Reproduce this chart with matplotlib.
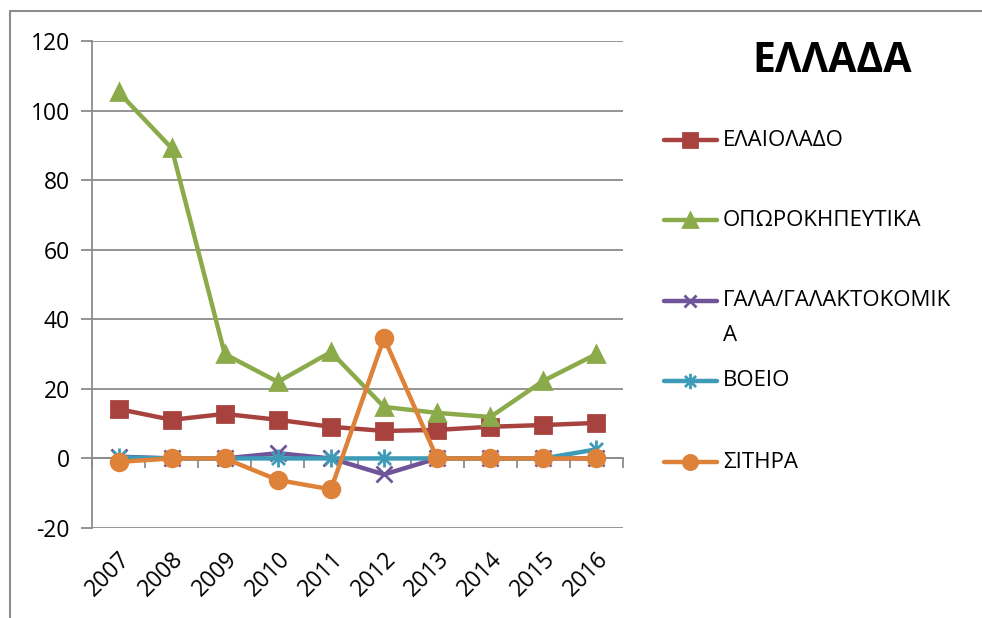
import matplotlib.pyplot as plt
import numpy as np
from matplotlib.lines import Line2D
from matplotlib.path import Path

plt.rcParams['font.family'] = ['Open Sans', 'DejaVu Sans']
plt.rcParams['axes.unicode_minus'] = False

years = ['2007', '2008', '2009', '2010', '2011', '2012', '2013', '2014', '2015', '2016']
elaiolado = [14.2, 11.1, 12.8, 11.1, 9.1, 7.9, 8.2, 9.1, 9.6, 10.2]
oporokipeftika = [105.3, 89.2, 30.0, 22.0, 30.6, 14.8, 13.1, 11.9, 22.3, 30.0]
gala = [0.5, 0.0, 0.0, 1.5, 0.0, -4.6, 0.0, 0.0, 0.0, 0.0]
voeio = [0.3, 0.0, 0.0, 0.0, 0.0, 0.0, 0.0, 0.0, 0.0, 2.6]
sitira = [-1.0, 0.0, 0.0, -6.2, -8.9, 34.6, 0.0, 0.0, 0.0, 0.0]

names = ['ΕΛΑΙΟΛΑΔΟ', 'ΟΠΩΡΟΚΗΠΕΥΤΙΚΑ', 'ΓΑΛΑ/ΓΑΛΑΚΤΟΚΟΜΙΚΑ', 'ΒΟΕΙΟ', 'ΣΙΤΗΡΑ']
colors = ['#A7423F', '#8BAA4A', '#6F5499', '#3D9BB7', '#DE8239']

# excel style star: vertical bar + x
star = Path([(0, -1), (0, 1), (-0.72, -0.72), (0.72, 0.72), (-0.72, 0.72), (0.72, -0.72)],
            [Path.MOVETO, Path.LINETO, Path.MOVETO, Path.LINETO, Path.MOVETO, Path.LINETO])
markers = ['s', '^', 'x', star, 'o']
msizes = [12, 12, 11, 13, 12]

W, H = 982, 618
fig = plt.figure(figsize=(W / 100, H / 100), dpi=100)
ax = fig.add_axes([92 / W, 1 - 528 / H, (623 - 92) / W, (528 - 41) / H])

def fx(px):
    return px / W

def fy(py):
    return 1 - py / H

x = np.arange(len(years))
series = [elaiolado, oporokipeftika, gala, voeio, sitira]
for vals, c, m, ms in zip(series, colors, markers, msizes):
    ax.plot(x, vals, color=c, lw=3.2, marker=m, ms=ms, mec=c, mfc=c, mew=2,
            clip_on=False, zorder=3)

gray = '#8C8C8C'
ax.set_xlim(-0.5, 9.5)
ax.set_ylim(-20, 120)
ax.set_yticks(np.arange(-20, 121, 20))
ax.grid(axis='y', color=gray, lw=1.3)
ax.set_axisbelow(True)
for s in ['top', 'right', 'bottom']:
    ax.spines[s].set_visible(False)
ax.spines['left'].set_color(gray)
ax.spines['left'].set_linewidth(1.3)
ax.tick_params(axis='y', length=8, width=1.3, color=gray, labelsize=16.5, pad=8)

ax.set_xticks(x)
ax.set_xticklabels(years, rotation=45, ha='right', va='top', rotation_mode='anchor')
ax.tick_params(axis='x', length=0, labelsize=16.5, pad=14)

# category axis crossing at zero
zax = ax.secondary_xaxis(20 / 140)
zax.spines['bottom'].set_color(gray)
zax.spines['bottom'].set_linewidth(1.3)
zax.set_xticks(np.arange(-0.5, 10, 1))
zax.set_xticklabels([])
zax.tick_params(length=7, width=1.3, color=gray)

# title
fig.text(fx(832), fy(62), 'ΕΛΛΑΔΑ', fontsize=29.5, fontweight='bold', ha='center', va='center')

# legend
leg_y = [140, 220, 301, 381, 462]
for name, c, m, ms, yy in zip(names, colors, markers, msizes, leg_y):
    fig.add_artist(Line2D([fx(664), fx(717)], [fy(yy), fy(yy)], color=c, lw=3.2,
                          solid_capstyle='round'))
    fig.add_artist(Line2D([fx(690)], [fy(yy)], color=c, marker=m, ms=ms * 0.85,
                          mec=c, mfc=c, mew=2, lw=0))
    if name == 'ΓΑΛΑ/ΓΑΛΑΚΤΟΚΟΜΙΚΑ':
        fig.text(fx(723), fy(yy), name[:-1], fontsize=16, va='center')
        fig.text(fx(723), fy(yy + 34), name[-1], fontsize=16, va='center')
    else:
        fig.text(fx(723), fy(yy), name, fontsize=16, va='center')

# outer chart frame
fig.add_artist(Line2D([fx(10), fx(10), fx(982)], [fy(618), fy(11), fy(11)],
                      color=gray, lw=1.5))

fig.savefig('out.png', dpi=100)
